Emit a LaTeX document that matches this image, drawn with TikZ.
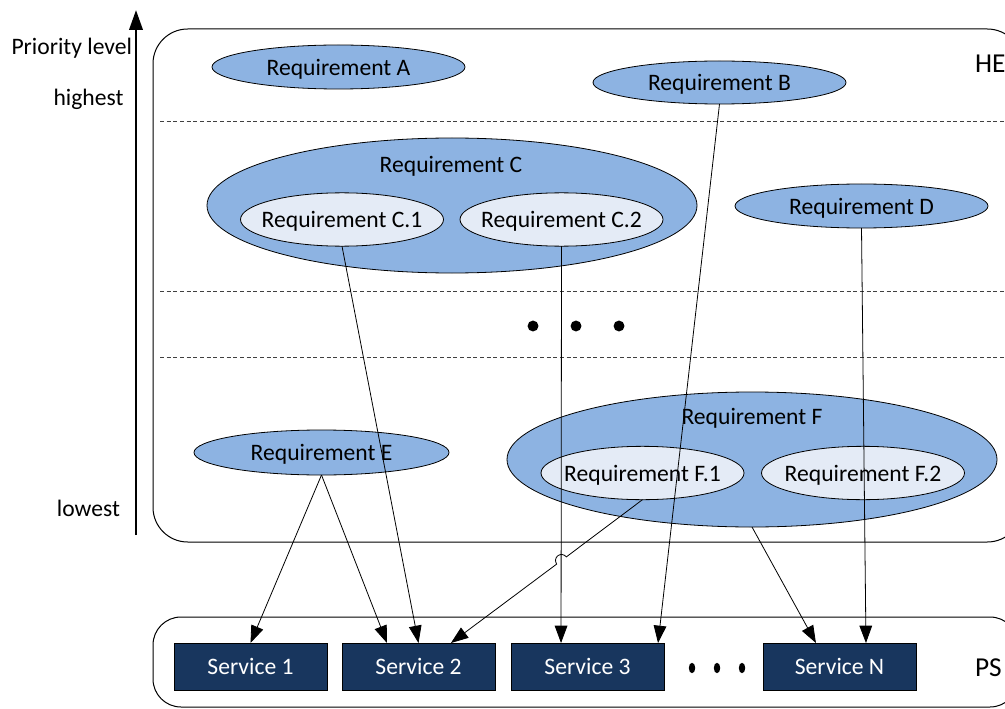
\documentclass[tikz,border=0pt]{standalone}
\usepackage{fontspec}
\setmainfont{Carlito}
\usetikzlibrary{shapes.geometric,arrows.meta,calc}
\definecolor{reqblue}{RGB}{141,179,226}
\definecolor{reqlight}{RGB}{228,235,246}
\definecolor{svcblue}{RGB}{24,54,94}
\begin{document}
\begin{tikzpicture}[x=0.75pt,y=-0.75pt,
  every node/.style={font=\fontsize{17.7}{21}\selectfont, inner sep=0pt, outer sep=0pt},
  lbl/.style={yshift=-1.6pt},
  big/.style={font=\fontsize{20.5}{24}\selectfont},
  req/.style={ellipse, draw=black, line width=0.6pt, fill=reqblue},
  sub/.style={ellipse, draw=black, line width=0.6pt, fill=reqlight, minimum width=152.25pt, minimum height=40pt},
  svc/.style={rectangle, draw=black, line width=0.6pt, fill=svcblue, text=white, minimum width=114.75pt, minimum height=35.25pt},
  arr/.style={-{Triangle[length=13pt,width=9.5pt]}, line width=0.6pt},
  level/.style={dash pattern=on 3pt off 2pt, line width=0.6pt, black!75},
  box/.style={draw=black, line width=0.75pt, rounded corners=26pt}
]
\useasboundingbox (0,0) rectangle (1005,709);
\clip (0,0) rectangle (1005,709);

% containers
\draw[box] (153,29) rectangle (1022,542);
\draw[box, rounded corners=21pt] (153,617) rectangle (1018,707);

% priority levels
\draw[level] (160,121) -- (1005,121);
\draw[level] (160,291) -- (1005,291);
\draw[level] (160,357) -- (1005,357);

% axis
\draw[line width=2pt, -{Triangle[length=15pt,width=10pt]}] (136,535) -- (136,10);
\node[lbl, anchor=east] (plabel) at (132,46) {Priority level};
\node[lbl] (hi) at (88.5,97) {highest};
\node[lbl] (lo) at (88.5,506) {lowest};
\node[lbl, big, anchor=west] (he) at (975,62) {HE};
\node[lbl, big, anchor=west] (ps) at (975,666) {PS};

% requirements
\node[req, minimum width=189.75pt, minimum height=33pt] (A) at (338.5,67) {};
\node[lbl] (At) at (A) {Requirement A};
\node[req, minimum width=189.75pt, minimum height=32.25pt] (B) at (719.5,82.5) {};
\node[lbl] (Bt) at (B) {Requirement B};
\node[req, minimum width=367.5pt, minimum height=101.25pt] (C) at (452,205.5) {};
\node[lbl] (Ct) at (451,164) {Requirement C};
\node[sub] (C1) at (342,219.5) {};
\node[lbl] (C1t) at (C1) {Requirement C.1};
\node[sub] (C2) at (561.5,219.5) {};
\node[lbl] (C2t) at (C2) {Requirement C.2};
\node[req, minimum width=189.75pt, minimum height=33pt] (D) at (861.5,206) {};
\node[lbl] (Dt) at (D) {Requirement D};
\node[req, minimum width=191.25pt, minimum height=33.75pt] (E) at (321.5,452.5) {};
\node[lbl] (Et) at (E) {Requirement E};
\node[req, minimum width=367.5pt, minimum height=101.25pt] (F) at (752,459.5) {};
\node[lbl] (Ft) at (752,416) {Requirement F};
\node[sub] (F1) at (642.5,473) {};
\node[lbl] (F1t) at (F1) {Requirement F.1};
\node[sub] (F2) at (863,473) {};
\node[lbl] (F2t) at (F2) {Requirement F.2};

% middle dots
\fill (533,326) circle[radius=4.1pt];
\fill (576,326) circle[radius=4.1pt];
\fill (619,326) circle[radius=4.1pt];

% services
\node[svc] (S1) at (250.5,666.5) {Service 1};
\node[svc] (S2) at (418.5,666.5) {Service 2};
\node[svc] (S3) at (587.5,666.5) {Service 3};
\node[svc] (SN) at (839.5,666.5) {Service N};
\fill (692,668) ellipse[x radius=2.4pt, y radius=3.9pt];
\fill (717,668) ellipse[x radius=2.4pt, y radius=3.9pt];
\fill (742,668) ellipse[x radius=2.4pt, y radius=3.9pt];

% connectors
\draw[arr] (B.south) -- ($(S3.north west)!0.961!(S3.north east)$);
\draw[arr] (C1.south) -- (S2.north);
\draw[arr] (C2.south) -- ($(S3.north west)!0.327!(S3.north east)$);
\draw[arr] (D.south) -- ($(SN.north west)!0.673!(SN.north east)$);
\draw[arr] (E.south) -- (S1.north);
\draw[arr] (E.south) -- ($(S2.north west)!0.294!(S2.north east)$);
\draw[arr] (F.south) -- ($(SN.north west)!0.346!(SN.north east)$);
\coordinate (hopS) at (566.3,556.9);
\draw[arr] (F1.south) -- (hopS) arc[start angle=36.7,end angle=216.7,radius=4.5pt] -- ($(S2.north west)!0.712!(S2.north east)$);
\end{tikzpicture}
\end{document}
